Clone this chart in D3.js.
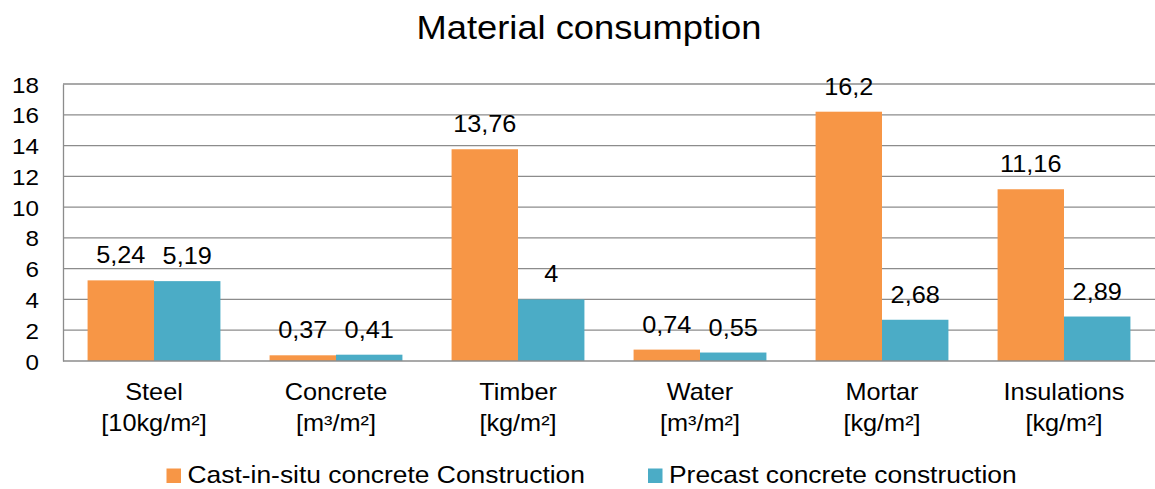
<!DOCTYPE html>
<html>
<head>
<meta charset="utf-8">
<script src="https://cdn.jsdelivr.net/npm/d3@7"></script>
<style>
  html, body { margin: 0; padding: 0; background: #fff; }
  svg { display: block; font-family: "Liberation Sans", Arial, sans-serif; }
</style>
</head>
<body>
<svg id="chart" width="1155" height="489"></svg>
<script>
const categories = ["Steel", "Concrete", "Timber", "Water", "Mortar", "Insulations"];
const units = ["[10kg/m²]", "[m³/m²]", "[kg/m²]", "[m³/m²]", "[kg/m²]", "[kg/m²]"];
const seriesNames = ["Cast-in-situ concrete Construction", "Precast concrete construction"];
const castInSitu = [5.24, 0.37, 13.76, 0.74, 16.2, 11.16];
const precast = [5.19, 0.41, 4, 0.55, 2.68, 2.89];
const yTicks = [0, 2, 4, 6, 8, 10, 12, 14, 16, 18];
const colors = ["#F79646", "#4BACC6"];

const svg = d3.select("#chart");
const plotLeft = 63, plotRight = 1155, plotTop = 84, plotBottom = 361;
const SX = 1.1; // horizontal text stretch seen in the reference

const x = d3.scaleBand().domain(categories).range([plotLeft, plotRight]).paddingInner(0).paddingOuter(0);
const inner = d3.scaleBand().domain([0, 1]).range([0, x.bandwidth()]).paddingInner(0).paddingOuter(0.37);
const y = d3.scaleLinear().domain([0, 18]).range([plotBottom, plotTop]);

const fmt = v => String(v).replace(".", ",");

function stretchedText(parent, px, py, str, size, anchor) {
  return parent.append("text")
    .attr("transform", `translate(${px},${py}) scale(${SX},1)`)
    .attr("text-anchor", anchor)
    .attr("font-size", size)
    .attr("fill", "#000")
    .text(str);
}

// gridlines
svg.append("g").selectAll("line").data(yTicks.filter(t => t > 0)).join("line")
  .attr("x1", plotLeft).attr("x2", plotRight)
  .attr("y1", d => y(d)).attr("y2", d => y(d))
  .attr("stroke", "#8c8c8c").attr("stroke-width", 1.3);

// y axis
const yAxis = d3.axisLeft(y).tickValues(yTicks).tickSize(0).tickPadding(0).tickFormat(d => d);
const yg = svg.append("g").attr("transform", `translate(${plotLeft},0)`).call(yAxis);
yg.select(".domain").attr("stroke", "#8c8c8c").attr("stroke-width", 1.3);
yg.selectAll(".tick text")
  .attr("x", 0).attr("dy", null)
  .attr("transform", `translate(-24,8) scale(${SX},1)`)
  .attr("font-size", 22).attr("fill", "#000")
  .attr("font-family", "Liberation Sans, Arial, sans-serif");

// bars
const data = categories.map((c, i) => ({ c, vals: [castInSitu[i], precast[i]] }));
const groups = svg.append("g").selectAll("g").data(data).join("g")
  .attr("transform", d => `translate(${x(d.c)},0)`);
groups.selectAll("rect").data(d => d.vals.map((v, k) => ({ v, k }))).join("rect")
  .attr("x", d => inner(d.k))
  .attr("width", inner.bandwidth())
  .attr("y", d => y(d.v))
  .attr("height", d => y(0) - y(d.v))
  .attr("fill", d => colors[d.k]);
groups.each(function(d) {
  const g = d3.select(this);
  d.vals.forEach((v, k) => {
    stretchedText(g, inner(k) + inner.bandwidth() / 2, y(v) - 17, fmt(v), 23, "middle");
  });
});

// baseline
svg.append("line").attr("x1", plotLeft).attr("x2", plotRight).attr("y1", y(0)).attr("y2", y(0))
  .attr("stroke", "#8c8c8c").attr("stroke-width", 1.3);

// x axis labels
const xg = svg.append("g");
categories.forEach((c, i) => {
  const cx = x(c) + x.bandwidth() / 2;
  stretchedText(xg, cx, 400, c, 23, "middle");
  stretchedText(xg, cx, 431, units[i], 23, "middle");
});

// title
stretchedText(svg, 589, 39, "Material consumption", 33, "middle");

// legend
const legendX = [166.5, 648];
seriesNames.forEach((name, i) => {
  svg.append("rect").attr("x", legendX[i]).attr("y", 468.5).attr("width", 14.5).attr("height", 14.5).attr("fill", colors[i]);
  stretchedText(svg, legendX[i] + 21, 483, name, 24, "start");
});
</script>
</body>
</html>
